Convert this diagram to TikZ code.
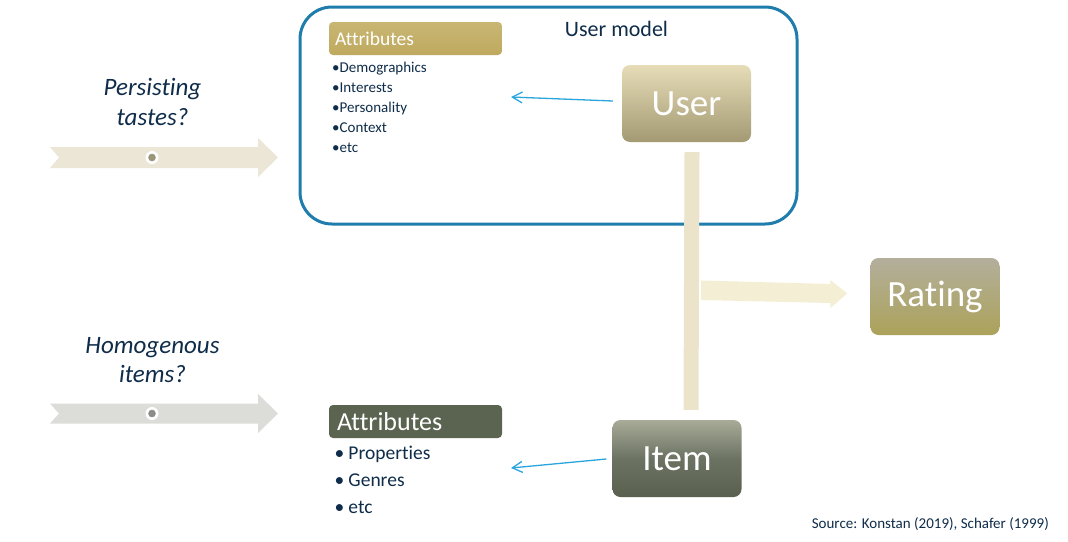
\documentclass[tikz,border=0pt]{standalone}
\usepackage{fontspec}
\setmainfont{Carlito}[Ligatures=NoCommon]
\usetikzlibrary{arrows.meta,calc}
\definecolor{navy}{HTML}{0F2D4A}
\definecolor{umblue}{HTML}{1E7DAC}
\definecolor{arrblue}{HTML}{2AA6DD}
\definecolor{gold}{HTML}{BFA95F}
\definecolor{goldtop}{HTML}{C8B672}
\definecolor{darkolive}{HTML}{5B6351}
\definecolor{userTop}{HTML}{E6DDB8}
\definecolor{userBot}{HTML}{A39A74}
\definecolor{ratTop}{HTML}{B3AF9C}
\definecolor{ratBot}{HTML}{ACA25A}
\definecolor{itemTop}{HTML}{A8AB98}
\definecolor{itemBot}{HTML}{5A604E}
\definecolor{barcol}{HTML}{EBE4CA}
\definecolor{harrcol}{HTML}{F4EED5}
\definecolor{chev1}{HTML}{ECE6D6}
\definecolor{chev2}{HTML}{DCDCD8}
\definecolor{dot1}{HTML}{9B9679}
\definecolor{dot2}{HTML}{8C8C8A}
\begin{document}
\begin{tikzpicture}[x=1pt,y=-1pt,
  bigbox/.style={rounded corners=8pt, minimum width=129pt, minimum height=77pt,
     inner sep=0pt, text=white, font=\fontsize{37}{40}\selectfont},
  hdr/.style={rounded corners=4pt, minimum height=33pt, inner ysep=0pt,
     text=white, align=left},
  listtxt/.style={anchor=base west, inner sep=0pt, text=navy},
  qtxt/.style={anchor=base, inner sep=0pt, text=navy, font=\fontsize{25}{29}\selectfont\itshape},
  bluearr/.style={draw=arrblue, line width=1.3pt, -{Straight Barb[length=10pt,width=11pt,line width=1.3pt]}},
  bar/.style={draw=barcol, line width=15pt}
]
\useasboundingbox (0,0) rectangle (1068,541);
\fill[white] (0,0) rectangle (1068,541);

% chevron arrows
\fill[chev1] (50,147) -- (258,147) -- (258,138) -- (278,157.5) -- (258,177) -- (258,168) -- (50,168) -- (59,157.5) -- cycle;
\fill[white] (152,157.5) circle (6.5);
\fill[dot1] (152,157.5) circle (3.8);
\fill[chev2] (50,403.5) -- (258,403.5) -- (258,394) -- (278,413.5) -- (258,433) -- (258,423.5) -- (50,423.5) -- (59,413.5) -- cycle;
\fill[white] (152,413.5) circle (6.5);
\fill[dot2] (152,413.5) circle (3.8);

% questions
\node[qtxt] (q1a) at (152.5,95.5) {Persisting};
\node[qtxt] (q1b) at (152.5,125) {tastes?};
\node[qtxt] (q2a) at (152.5,353) {Homogenous};
\node[qtxt] (q2b) at (152.5,382) {items?};

% user model frame
\node[draw=umblue, line width=3pt, rounded corners=32pt, minimum width=497pt, minimum height=217pt, inner sep=0pt] (um) at (548.5,115.5) {};
\node[anchor=base, inner sep=0pt, text=navy, font=\fontsize{22}{26}\selectfont] (umt) at (616.5,36) {User model};

% user attributes
\node[hdr, top color=goldtop, bottom color=gold, text width=161pt, inner xsep=6pt, font=\fontsize{19.5}{22}\selectfont] (ua) at (415.5,38.5) {Attributes};
\foreach \t [count=\i from 0] in {Demographics,Interests,Personality,Context,etc}
  \node[listtxt, font=\fontsize{15}{18}\selectfont] (ul\i) at (332,72+20.2*\i) {•\t};

% item attributes
\node[hdr, fill=darkolive, text width=157pt, inner xsep=8pt, font=\fontsize{26}{30}\selectfont] (ia) at (415.5,421.5) {Attributes};
\foreach \t [count=\i from 0] in {Properties,Genres,etc}
  \node[listtxt, font=\fontsize{19.5}{22}\selectfont] (il\i) at (334.5,459+27*\i) {\makebox[13.8pt][l]{•}\t};

% main boxes
\node[bigbox, top color=userTop, bottom color=userBot] (user) at (686.5,103.5) {User};
\node[bigbox, top color=ratTop, bottom color=ratBot] (rating) at (935,296.5) {Rating};
\node[bigbox, top color=itemTop, bottom color=itemBot, middle color=darkolive!90!white] (item) at (677,458.5) {Item};

% vertical bar
\draw[bar] ($(user.south)+(5.5,10)$) -- ($(item.north)+(14,-10)$);

% horizontal arrow to rating
\coordinate (hs) at (701,290);
\coordinate (tip) at ($(rating.west)+(-23,-3)$);
\fill[harrcol] ($(hs)+(0,-9.5)$) -- ($(tip)+(-17,-9.5)$) -- ($(tip)+(-17,-13.5)$) -- (tip)
   -- ($(tip)+(-17,14.5)$) -- ($(tip)+(-17,9.5)$) -- ($(hs)+(0,10)$) -- cycle;

% blue arrows
\coordinate (uend) at (511,97);
\coordinate (iend) at (511,468);
\draw[bluearr] ($(user.west)+(-9,-2.5)$) -- (uend);
\draw[bluearr] ($(item.west)+(-6,0.5)$) -- (iend);

% source
\node[anchor=base east, inner sep=0pt, text=navy, font=\fontsize{15}{18}\selectfont] (src) at (1049,528) {Source: Konstan (2019), Schafer (1999)};
\end{tikzpicture}
\end{document}
